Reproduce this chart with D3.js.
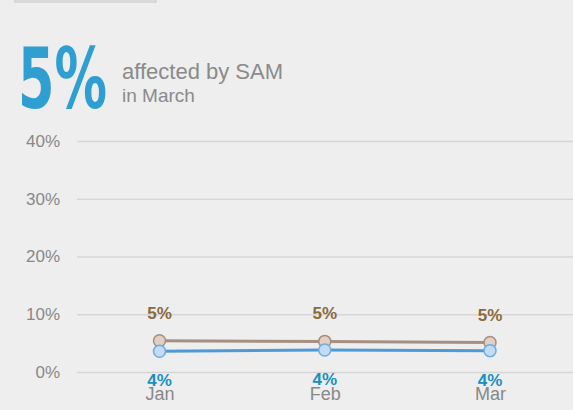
<!DOCTYPE html>
<html>
<head>
	<title>SAM chart</title>
	<script src="https://d3js.org/d3.v7.min.js" charset="utf-8"></script>
	<style>
		body { margin: 0; background: #eeeeee; }
		svg { display: block; }
	</style>
</head>
<body>
	<svg width="573" height="410"></svg>
	<script>
		var months = ["Jan", "Feb", "Mar"];
		var samValues = [5.4, 5.3, 5.1];
		var otherValues = [3.6, 3.8, 3.7];
		var samLabels = ["5%", "5%", "5%"];
		var otherLabels = ["4%", "4%", "4%"];
		var yTicks = [0, 10, 20, 30, 40];

		var svg = d3.select('svg');
		var fontFamily = "Liberation Sans, Arial, sans-serif";

		svg.append('rect').attr('width', 573).attr('height', 410).attr('fill', '#eeeeee');

		// little rule at the top
		svg.append('line')
			.attr('x1', 14).attr('x2', 157).attr('y1', 1.5).attr('y2', 1.5)
			.attr('stroke', '#d9d9d9').attr('stroke-width', 3);

		// headline
		svg.append('text')
			.attr('x', 18).attr('y', 108)
			.attr('font-family', "DejaVu Sans Condensed, sans-serif")
			.attr('font-weight', 'bold')
			.attr('font-size', 83)
			.attr('textLength', 89)
			.attr('lengthAdjust', 'spacingAndGlyphs')
			.attr('fill', '#2f9fd1')
			.text('5%');

		svg.append('text')
			.attr('x', 122).attr('y', 79)
			.attr('font-family', fontFamily)
			.attr('font-size', 22)
			.attr('fill', '#8a8a8a')
			.text('affected by SAM');

		svg.append('text')
			.attr('x', 122).attr('y', 102)
			.attr('font-family', fontFamily)
			.attr('font-size', 19)
			.attr('fill', '#8a8a8a')
			.text('in March');

		var x = d3.scalePoint().domain(months).range([159.5, 490]);
		var y = d3.scaleLinear().domain([0, 40]).range([372, 141]);

		// grid + y axis
		var yAxis = svg.append('g')
			.attr('transform', 'translate(77,0)')
			.call(d3.axisLeft(y).tickValues(yTicks).tickSize(-496).tickPadding(17)
				.tickFormat(function(d) { return d + '%'; }));
		yAxis.select('.domain').remove();
		yAxis.selectAll('line').attr('stroke', '#d6d6d6').attr('stroke-width', 1.5);
		yAxis.selectAll('text')
			.attr('font-family', fontFamily).attr('font-size', 17).attr('fill', '#888');

		// x axis labels
		var xAxis = svg.append('g')
			.attr('transform', 'translate(0,372)')
			.call(d3.axisBottom(x).tickSize(0).tickPadding(15));
		xAxis.select('.domain').remove();
		xAxis.selectAll('text')
			.attr('font-family', fontFamily).attr('font-size', 18).attr('fill', '#888');

		function drawSeries(values, labels, lineColor, fillColor, strokeColor, labelColor, above) {
			var line = d3.line()
				.x(function(d, i) { return x(months[i]); })
				.y(function(d) { return y(d); });
			svg.append('path')
				.datum(values)
				.attr('d', line)
				.attr('fill', 'none')
				.attr('stroke', lineColor)
				.attr('stroke-width', 3);
			var g = svg.append('g');
			g.selectAll('circle')
				.data(values)
				.enter()
				.append('circle')
				.attr('cx', function(d, i) { return x(months[i]); })
				.attr('cy', function(d) { return y(d); })
				.attr('r', 6)
				.attr('fill', fillColor)
				.attr('stroke', strokeColor)
				.attr('stroke-width', 1.5);
			g.selectAll('text')
				.data(values)
				.enter()
				.append('text')
				.attr('x', function(d, i) { return x(months[i]); })
				.attr('y', function(d) { return above ? y(d) - 22 : y(d) + 35; })
				.attr('text-anchor', 'middle')
				.attr('font-family', fontFamily)
				.attr('font-weight', 'bold')
				.attr('font-size', 17)
				.attr('fill', labelColor)
				.text(function(d, i) { return labels[i]; });
		}

		drawSeries(samValues, samLabels, '#a48f80', '#e3cfc2', '#a48f80', '#8a6a3c', true);
		drawSeries(otherValues, otherLabels, '#4d9ad6', '#c3dcf4', '#6aaee2', '#1a8fc2', false);
	</script>
</body>
</html>
